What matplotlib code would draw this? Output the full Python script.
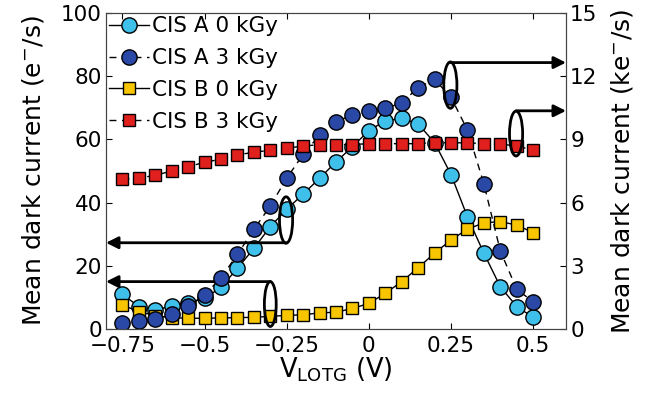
import matplotlib
matplotlib.use("Agg")
from matplotlib import pyplot as plt
from matplotlib.patches import Ellipse

plt.rcParams['font.family'] = ['DejaVu Sans']

# gate voltage (V)
v_lotg = [-0.75, -0.7, -0.65, -0.6, -0.55, -0.5, -0.45, -0.4, -0.35, -0.3, -0.25, -0.2, -0.15,
          -0.1, -0.05, 0.0, 0.05, 0.1, 0.15, 0.2, 0.25, 0.3, 0.35, 0.4, 0.45, 0.5]

# 0 kGy -> left axis (e-/s)
cis_a_0 = [11.0, 7.1, 6.0, 7.3, 8.3, 9.7, 13.2, 19.2, 25.5, 32.4, 37.9, 42.7, 47.7,
           52.9, 57.7, 62.8, 65.9, 66.7, 64.9, 59.0, 48.9, 35.5, 24.0, 13.4, 7.1, 3.7]
cis_b_0 = [7.6, 5.5, 4.2, 3.6, 3.4, 3.4, 3.5, 3.6, 3.7, 4.0, 4.3, 4.5, 5.1,
           5.3, 6.5, 8.1, 11.3, 15.0, 19.4, 24.0, 28.2, 31.6, 33.6, 34.0, 32.9, 30.5]

# 3 kGy -> right axis (ke-/s)
cis_a_3 = [0.30, 0.39, 0.47, 0.69, 1.07, 1.62, 2.43, 3.54, 4.73, 5.84, 7.16, 8.29, 9.21,
           9.84, 10.16, 10.37, 10.47, 10.74, 11.46, 11.85, 11.0, 9.45, 6.89, 3.71, 1.89, 1.29]
cis_b_3 = [7.11, 7.16, 7.30, 7.50, 7.70, 7.92, 8.06, 8.27, 8.39, 8.49, 8.58, 8.69, 8.75,
           8.76, 8.76, 8.80, 8.80, 8.80, 8.80, 8.85, 8.84, 8.84, 8.80, 8.78, 8.69, 8.49]

x_ticks = [-0.75, -0.5, -0.25, 0, 0.25, 0.5]
x_ticklabels = ['\u22120.75', '\u22120.5', '\u22120.25', '0', '0.25', '0.5']
left_ticks = [0, 20, 40, 60, 80, 100]
right_ticks = [0, 3, 6, 9, 12, 15]

# ellipse markers: (x, y, width V, height) and arrows (x start, y)
ellipses_left = [(-0.30, 7.9, 0.036, 14.2), (-0.252, 34.5, 0.04, 14.7)]
arrows_left = [(-0.30, 15.0), (-0.252, 27.3)]
ellipses_right = [(0.248, 11.58, 0.04, 2.2), (0.448, 9.28, 0.04, 2.13)]
arrows_right = [(0.248, 12.65), (0.448, 10.36)]

light_blue = '#3fc0ea'
dark_blue = '#2a48a6'
yellow = '#f7c600'
red = '#e0201c'

fig, ax = plt.subplots(figsize=(6.6, 4.09), dpi=100)
fig.subplots_adjust(left=0.1606, right=0.8576, bottom=0.1956, top=0.968)
ax2 = ax.twinx()

l1, = ax.plot(v_lotg, cis_a_0, '-o', color='k', lw=1, mfc=light_blue, mec='k', mew=1,
              ms=11, label='CIS A 0 kGy')
l3, = ax.plot(v_lotg, cis_b_0, '-s', color='k', lw=1, mfc=yellow, mec='k', mew=1,
              ms=9, label='CIS B 0 kGy')
l2, = ax2.plot(v_lotg, cis_a_3, '--o', color='k', lw=1, mfc=dark_blue, mec='k', mew=1,
               ms=11, label='CIS A 3 kGy', dashes=(5, 4))
l4, = ax2.plot(v_lotg, cis_b_3, '--s', color='k', lw=1, mfc=red, mec='k', mew=1,
               ms=9, label='CIS B 3 kGy', dashes=(5, 4))

ax.set_xlim(-0.8, 0.6)
ax.set_ylim(0, 100)
ax2.set_ylim(0, 15)
ax.set_xticks(x_ticks)
ax.set_xticklabels(x_ticklabels)
ax.set_yticks(left_ticks)
ax2.set_yticks(right_ticks)

ax.tick_params(axis='both', direction='in', labelsize=15.5, length=4, top=True, pad=3)
ax.tick_params(axis='x', pad=5)
ax2.tick_params(axis='y', direction='in', labelsize=15.5, length=4, pad=3)
for a in (ax, ax2):
    for s in a.spines.values():
        s.set_linewidth(0.8)
        s.set_color('#444444')

ax.set_xlabel('V$_\\mathregular{LOTG}$ (V)', fontsize=18.5, labelpad=0)
ax.set_ylabel('Mean dark current (e$^\\mathregular{-}$/s)', fontsize=18, labelpad=11)
ax2.set_ylabel('Mean dark current (ke$^\\mathregular{-}$/s)', fontsize=18, labelpad=8)

for (cx, cy, w, h) in ellipses_left:
    ax.add_patch(Ellipse((cx, cy), w, h, fill=False, lw=2, ec='k', zorder=5))
for (sx, sy) in arrows_left:
    ax.annotate('', xy=(-0.8, sy), xytext=(sx, sy),
                arrowprops=dict(arrowstyle='-|>', lw=2, color='k', mutation_scale=18,
                                shrinkA=0, shrinkB=0), zorder=6)
for (cx, cy, w, h) in ellipses_right:
    ax2.add_patch(Ellipse((cx, cy), w, h, fill=False, lw=2, ec='k', zorder=5))
for (sx, sy) in arrows_right:
    ax2.annotate('', xy=(0.6, sy), xytext=(sx, sy),
                 arrowprops=dict(arrowstyle='-|>', lw=2, color='k', mutation_scale=18,
                                 shrinkA=0, shrinkB=0), zorder=6)

ax2.legend(handles=[l1, l2, l3, l4], loc='upper left', frameon=False, fontsize=15.5,
           handlelength=1.85, handletextpad=0.15, labelspacing=0.55,
           borderaxespad=0.0, borderpad=0.15)

plt.savefig('out.png', dpi=100)
